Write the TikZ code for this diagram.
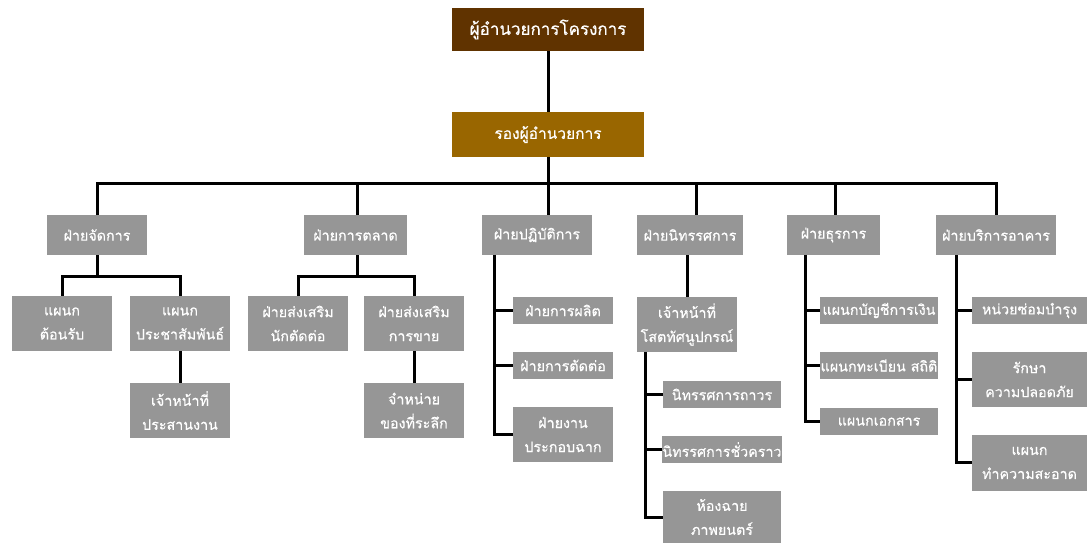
\documentclass[tikz,border=0pt]{standalone}
\usepackage{fontspec}
\newfontfamily\thaifont[Script=Thai,FakeBold=0.5]{Loma}
\definecolor{topbrown}{RGB}{96,51,0}
\definecolor{depbrown}{RGB}{153,102,0}
\definecolor{boxgray}{RGB}{150,150,150}
\begin{document}
\begin{tikzpicture}[x=1pt,y=-1pt,
  box/.style={fill=boxgray, text=white, font=\thaifont\fontsize{14.3}{24}\selectfont,
    align=center, inner sep=0pt},
  conn/.style={draw=black, line width=3pt}]
\useasboundingbox (0,0) rectangle (1088,545);
\fill[white] (0,0) rectangle (1088,545);
% top
\node[box, fill=topbrown, font=\thaifont\fontsize{17}{24}\selectfont, minimum width=192pt, minimum height=43pt] (top) at (548,29.5) {ผู้อำนวยการโครงการ};
\node[box, fill=depbrown, font=\thaifont\fontsize{15.5}{24}\selectfont, minimum width=192pt, minimum height=45pt] (dep) at (548,134.5) {รองผู้อำนวยการ};
% level 2
\node[box, minimum width=100pt, minimum height=40pt] (A) at (97,235) {ฝ่ายจัดการ};
\node[box, minimum width=103pt, minimum height=40pt] (B) at (355.5,235) {ฝ่ายการตลาด};
\node[box, minimum width=110pt, minimum height=40pt] (C) at (537,235) {ฝ่ายปฏิบัติการ};
\node[box, minimum width=106pt, minimum height=40pt] (D) at (690,235) {ฝ่ายนิทรรศการ};
\node[box, minimum width=93pt, minimum height=40pt] (E) at (833.5,235) {ฝ่ายธุรการ};
\node[box, minimum width=120pt, minimum height=40pt] (F) at (996,235) {ฝ่ายบริการอาคาร};
% A children
\node[box, minimum width=100pt, minimum height=55pt] (A1) at (62,323.5) {แผนก\\ต้อนรับ};
\node[box, minimum width=100pt, minimum height=55pt] (A2) at (180,323.5) {แผนก\\ประชาสัมพันธ์};
\node[box, minimum width=100pt, minimum height=55pt] (A3) at (180,410.5) {เจ้าหน้าที่\\ประสานงาน};
% B children
\node[box, minimum width=100pt, minimum height=55pt] (B1) at (298,323.5) {ฝ่ายส่งเสริม\\นักตัดต่อ};
\node[box, minimum width=100pt, minimum height=55pt] (B2) at (414,323.5) {ฝ่ายส่งเสริม\\การขาย};
\node[box, minimum width=100pt, minimum height=55pt] (B3) at (414,410.5) {จำหน่าย\\ของที่ระลึก};
% C children
\node[box, minimum width=100pt, minimum height=27pt] (C1) at (563,310.5) {ฝ่ายการผลิต};
\node[box, minimum width=100pt, minimum height=27pt] (C2) at (563,365.5) {ฝ่ายการตัดต่อ};
\node[box, minimum width=100pt, minimum height=55pt] (C3) at (563,434.5) {ฝ่ายงาน\\ประกอบฉาก};
% D children
\node[box, minimum width=100pt, minimum height=55pt] (D1) at (687,324.5) {เจ้าหน้าที่\\โสตทัศนูปกรณ์};
\node[box, minimum width=118pt, minimum height=27pt] (D2) at (722,394.5) {นิทรรศการถาวร};
\node[box, minimum width=118pt, minimum height=27pt] (D3) at (722,449.5) {นิทรรศการชั่วคราว};
\node[box, minimum width=118pt, minimum height=52pt] (D4) at (722,517) {ห้องฉาย\\ภาพยนตร์};
% E children
\node[box, minimum width=118pt, minimum height=27pt] (E1) at (879,310.5) {แผนกบัญชีการเงิน};
\node[box, minimum width=118pt, minimum height=27pt] (E2) at (879,365.5) {แผนกทะเบียน สถิติ};
\node[box, minimum width=118pt, minimum height=27pt] (E3) at (879,421.5) {แผนกเอกสาร};
% F children
\node[box, minimum width=115pt, minimum height=27pt] (F1) at (1029.5,310.5) {หน่วยซ่อมบำรุง};
\node[box, minimum width=115pt, minimum height=55pt] (F2) at (1029.5,379.5) {รักษา\\ความปลอดภัย};
\node[box, minimum width=115pt, minimum height=56pt] (F3) at (1029.5,463) {แผนก\\ทำความสะอาด};
% coordinates
\coordinate (bus) at (548,184);
\coordinate (Abus) at (97,277);
\coordinate (Bbus) at (357,277);
\coordinate (Cspine) at (494,255);
\coordinate (Dspine) at (645,352);
\coordinate (Espine) at (805,255);
\coordinate (Fspine) at (956,255);
% connectors
\draw[conn] (top.south) -- (dep.north);
\draw[conn] (dep.south) -- (dep.south |- C.north);
\draw[conn] (A.north) |- (bus) -| (F.north);
\draw[conn] ([xshift=1.5pt]B.north) -- ([xshift=1.5pt]B.north |- bus);
\draw[conn] ([xshift=6pt]D.north) -- ([xshift=6pt]D.north |- bus);
\draw[conn] ([xshift=1.5pt]E.north) -- ([xshift=1.5pt]E.north |- bus);
% A
\draw[conn] (A.south) -- (Abus);
\draw[conn] (A1.north) |- (Abus) -| (A2.north);
\draw[conn] (A2.south) -- (A3.north);
% B
\draw[conn] (Bbus |- B.south) -- (Bbus);
\draw[conn] (B1.north) |- (Bbus) -| (B2.north);
\draw[conn] (B2.south) -- (B3.north);
% C
\draw[conn] (Cspine) |- (C3.west);
\draw[conn] (Cspine |- C1.west) -- (C1.west);
\draw[conn] (Cspine |- C2.west) -- (C2.west);
% D
\draw[conn] (D1.north |- D.south) -- (D1.north);
\draw[conn] (Dspine) |- (D4.west);
\draw[conn] (Dspine |- D2.west) -- (D2.west);
\draw[conn] (Dspine |- D3.west) -- (D3.west);
% E
\draw[conn] (Espine) |- (E3.west);
\draw[conn] (Espine |- E1.west) -- (E1.west);
\draw[conn] (Espine |- E2.west) -- (E2.west);
% F
\draw[conn] (Fspine) |- (F3.west);
\draw[conn] (Fspine |- F1.west) -- (F1.west);
\draw[conn] (Fspine |- F2.west) -- (F2.west);
\end{tikzpicture}
\end{document}
